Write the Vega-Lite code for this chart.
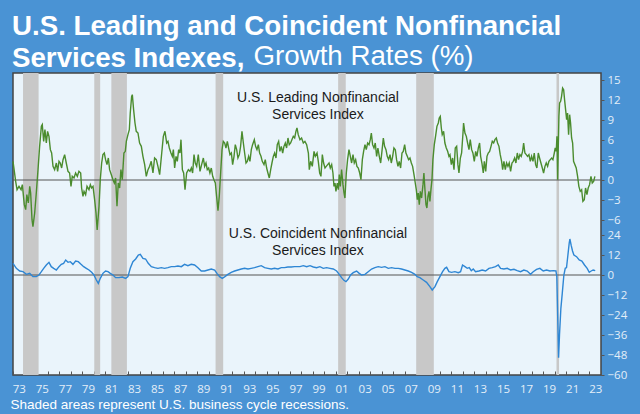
{
"$schema":"https://vega.github.io/schema/vega-lite/v6.json",
"width":588,"height":302,
"autosize":{"type":"none"},
"padding":{"left":13,"top":73,"right":39,"bottom":39},
"background":"#4a93d4",
"config":{
 "view":{"fill":"#eaf4fb","stroke":"#444444","strokeWidth":1.5},
 "font":"Liberation Sans",
 "axis":{"grid":false,"domain":false,"labelFont":"Open Sans","labelColor":"#e3eef8","labelFontSize":11.5,"tickColor":"#555555"},
 "axisX":{"labelOverlap":false,"labelFlush":false,"labelBound":false}
},
"title":{"text":["U.S. Leading and Coincident Nonfinancial","Services Indexes,"],
 "anchor":"start","frame":"group","dx":-1,"offset":-31,
 "font":"Liberation Sans","fontSize":27.7,"fontWeight":"bold","color":"#ffffff","lineHeight":32},
"datasets":{
 "rec":[{"s":1973.87,"e":1975.22},{"s":1980.05,"e":1980.56},{"s":1981.53,"e":1982.88},{"s":1990.57,"e":1991.23},{"s":2001.2,"e":2001.86},{"s":2007.97,"e":2009.5},{"s":2020.14,"e":2020.36}],
 "lead":[
{"t":1973.0,"v":2.8},{"t":1973.14,"v":1.0},{"t":1973.23,"v":-0.2},{"t":1973.35,"v":-1.45},{"t":1973.52,"v":-0.95},{"t":1973.7,"v":-1.45},{"t":1973.81,"v":-0.7},{"t":1973.98,"v":-3.7},{"t":1974.1,"v":-4.45},{"t":1974.2,"v":-2.2},{"t":1974.33,"v":-3.45},{"t":1974.45,"v":-0.95},{"t":1974.53,"v":-1.95},{"t":1974.65,"v":-5.95},{"t":1974.73,"v":-7.0},{"t":1974.88,"v":-4.95},{"t":1975.02,"v":-1.95},{"t":1975.17,"v":1.55},{"t":1975.31,"v":5.05},{"t":1975.46,"v":8.05},{"t":1975.54,"v":8.3},{"t":1975.66,"v":5.8},{"t":1975.77,"v":7.55},{"t":1975.89,"v":5.55},{"t":1976.0,"v":7.3},{"t":1976.12,"v":6.55},{"t":1976.24,"v":4.55},{"t":1976.35,"v":4.05},{"t":1976.47,"v":2.05},{"t":1976.61,"v":1.55},{"t":1976.76,"v":2.55},{"t":1976.87,"v":1.3},{"t":1976.99,"v":2.8},{"t":1977.1,"v":2.55},{"t":1977.22,"v":1.8},{"t":1977.34,"v":3.05},{"t":1977.48,"v":3.8},{"t":1977.62,"v":2.55},{"t":1977.77,"v":1.3},{"t":1977.91,"v":1.05},{"t":1978.03,"v":-0.95},{"t":1978.14,"v":0.55},{"t":1978.29,"v":0.3},{"t":1978.43,"v":1.05},{"t":1978.58,"v":0.55},{"t":1978.72,"v":1.3},{"t":1978.87,"v":1.05},{"t":1978.95,"v":-1.2},{"t":1979.07,"v":-2.45},{"t":1979.16,"v":-1.7},{"t":1979.3,"v":-2.2},{"t":1979.42,"v":-0.95},{"t":1979.59,"v":-1.45},{"t":1979.71,"v":-0.7},{"t":1979.82,"v":-1.2},{"t":1979.94,"v":-0.95},{"t":1980.08,"v":-2.95},{"t":1980.2,"v":-4.95},{"t":1980.3,"v":-7.5},{"t":1980.46,"v":-3.95},{"t":1980.57,"v":0.05},{"t":1980.69,"v":2.55},{"t":1980.8,"v":3.8},{"t":1980.92,"v":4.05},{"t":1981.03,"v":3.05},{"t":1981.15,"v":2.3},{"t":1981.27,"v":3.3},{"t":1981.38,"v":1.55},{"t":1981.53,"v":0.8},{"t":1981.67,"v":0.05},{"t":1981.79,"v":-0.45},{"t":1981.9,"v":0.3},{"t":1982.02,"v":-3.95},{"t":1982.13,"v":-0.45},{"t":1982.25,"v":-1.2},{"t":1982.36,"v":1.55},{"t":1982.48,"v":0.05},{"t":1982.62,"v":4.05},{"t":1982.74,"v":4.3},{"t":1982.83,"v":5.8},{"t":1982.97,"v":6.8},{"t":1983.09,"v":7.55},{"t":1983.17,"v":10.05},{"t":1983.29,"v":12.55},{"t":1983.35,"v":12.8},{"t":1983.46,"v":10.55},{"t":1983.58,"v":8.55},{"t":1983.69,"v":7.3},{"t":1983.84,"v":7.05},{"t":1983.98,"v":5.55},{"t":1984.13,"v":5.05},{"t":1984.27,"v":3.55},{"t":1984.42,"v":2.3},{"t":1984.56,"v":0.55},{"t":1984.71,"v":1.55},{"t":1984.85,"v":2.05},{"t":1984.99,"v":2.8},{"t":1985.14,"v":1.05},{"t":1985.28,"v":3.3},{"t":1985.43,"v":3.05},{"t":1985.57,"v":2.05},{"t":1985.72,"v":0.8},
{"t":1985.9,"v":4.05},{"t":1986.04,"v":6.55},{"t":1986.18,"v":7.3},{"t":1986.33,"v":5.55},{"t":1986.44,"v":5.8},{"t":1986.56,"v":4.8},{"t":1986.7,"v":4.05},{"t":1986.82,"v":3.55},{"t":1986.91,"v":4.55},{"t":1987.02,"v":1.8},{"t":1987.14,"v":3.55},{"t":1987.25,"v":2.8},{"t":1987.37,"v":4.55},{"t":1987.48,"v":4.05},{"t":1987.57,"v":6.05},{"t":1987.69,"v":1.55},{"t":1987.8,"v":1.05},{"t":1987.92,"v":-1.45},{"t":1988.06,"v":1.05},{"t":1988.21,"v":1.55},{"t":1988.35,"v":1.3},{"t":1988.47,"v":1.8},{"t":1988.58,"v":1.05},{"t":1988.7,"v":3.8},{"t":1988.81,"v":2.55},{"t":1988.93,"v":2.05},{"t":1989.07,"v":3.8},{"t":1989.22,"v":1.3},{"t":1989.36,"v":2.3},{"t":1989.51,"v":3.3},{"t":1989.62,"v":2.05},{"t":1989.74,"v":2.55},{"t":1989.85,"v":1.55},{"t":1989.97,"v":1.8},{"t":1990.08,"v":1.05},{"t":1990.2,"v":1.8},{"t":1990.32,"v":0.55},{"t":1990.43,"v":0.05},{"t":1990.55,"v":-0.45},{"t":1990.66,"v":-2.45},{"t":1990.78,"v":-4.6},{"t":1990.89,"v":-2.45},{"t":1991.01,"v":1.05},{"t":1991.13,"v":4.55},{"t":1991.24,"v":5.8},{"t":1991.36,"v":5.55},{"t":1991.47,"v":4.8},{"t":1991.59,"v":5.8},{"t":1991.7,"v":4.8},{"t":1991.82,"v":3.8},{"t":1991.94,"v":4.05},{"t":1992.05,"v":2.3},{"t":1992.17,"v":3.55},{"t":1992.28,"v":5.3},{"t":1992.4,"v":4.55},{"t":1992.51,"v":3.3},{"t":1992.63,"v":3.8},{"t":1992.74,"v":5.05},{"t":1992.86,"v":7.3},{"t":1992.98,"v":5.55},{"t":1993.09,"v":4.05},{"t":1993.21,"v":2.55},{"t":1993.32,"v":2.8},{"t":1993.44,"v":3.55},{"t":1993.55,"v":2.8},{"t":1993.67,"v":4.55},{"t":1993.78,"v":5.3},{"t":1993.93,"v":6.05},{"t":1994.04,"v":5.05},{"t":1994.16,"v":4.55},{"t":1994.28,"v":5.3},{"t":1994.39,"v":4.05},{"t":1994.51,"v":3.55},{"t":1994.62,"v":2.8},{"t":1994.77,"v":2.3},{"t":1994.88,"v":3.05},{"t":1995.0,"v":1.8},{"t":1995.11,"v":1.05},{"t":1995.23,"v":0.3},{"t":1995.35,"v":1.55},{"t":1995.46,"v":2.55},{"t":1995.58,"v":3.55},{"t":1995.69,"v":4.05},{"t":1995.81,"v":3.3},{"t":1995.92,"v":5.3},{"t":1996.04,"v":5.8},{"t":1996.15,"v":4.3},{"t":1996.27,"v":5.05},{"t":1996.39,"v":4.05},{"t":1996.5,"v":5.05},{"t":1996.62,"v":5.55},{"t":1996.73,"v":4.8},{"t":1996.85,"v":6.3},{"t":1996.96,"v":5.3},{"t":1997.08,"v":5.55},{"t":1997.19,"v":6.05},{"t":1997.31,"v":6.55},{"t":1997.43,"v":6.3},{"t":1997.54,"v":7.3},{"t":1997.63,"v":7.8},{"t":1997.74,"v":6.8},{"t":1997.89,"v":6.05},{"t":1998.03,"v":6.3},{"t":1998.18,"v":5.55},{"t":1998.32,"v":5.8},{"t":1998.47,"v":5.3},{"t":1998.62,"v":4.05},
{"t":1998.7,"v":1.55},{"t":1998.82,"v":2.8},{"t":1998.96,"v":2.05},{"t":1999.11,"v":4.3},{"t":1999.22,"v":3.55},{"t":1999.37,"v":4.05},{"t":1999.48,"v":2.8},{"t":1999.6,"v":1.05},{"t":1999.71,"v":0.55},{"t":1999.83,"v":3.8},{"t":1999.94,"v":2.55},{"t":2000.06,"v":1.8},{"t":2000.17,"v":2.05},{"t":2000.29,"v":2.3},{"t":2000.41,"v":2.55},{"t":2000.52,"v":1.8},{"t":2000.64,"v":2.3},{"t":2000.75,"v":1.05},{"t":2000.84,"v":-0.95},{"t":2000.93,"v":-0.45},{"t":2001.01,"v":-1.7},{"t":2001.13,"v":-0.45},{"t":2001.22,"v":-1.45},{"t":2001.3,"v":0.8},{"t":2001.39,"v":-0.95},{"t":2001.5,"v":1.55},{"t":2001.62,"v":-0.7},{"t":2001.71,"v":-1.95},{"t":2001.79,"v":-2.7},{"t":2001.91,"v":1.05},{"t":2002.02,"v":3.05},{"t":2002.14,"v":4.55},{"t":2002.26,"v":3.55},{"t":2002.37,"v":2.55},{"t":2002.49,"v":3.8},{"t":2002.6,"v":2.55},{"t":2002.72,"v":3.05},{"t":2002.83,"v":2.05},{"t":2002.95,"v":1.8},{"t":2003.07,"v":1.05},{"t":2003.18,"v":0.05},{"t":2003.3,"v":3.05},{"t":2003.41,"v":4.3},{"t":2003.53,"v":5.3},{"t":2003.64,"v":4.55},{"t":2003.76,"v":5.55},{"t":2003.88,"v":5.3},{"t":2003.99,"v":6.05},{"t":2004.08,"v":7.05},{"t":2004.19,"v":5.3},{"t":2004.31,"v":4.8},{"t":2004.42,"v":5.55},{"t":2004.54,"v":3.55},{"t":2004.65,"v":4.8},{"t":2004.77,"v":3.55},{"t":2004.89,"v":2.55},{"t":2005.0,"v":4.3},{"t":2005.12,"v":6.3},{"t":2005.23,"v":5.05},{"t":2005.35,"v":4.55},{"t":2005.46,"v":3.55},{"t":2005.58,"v":3.05},{"t":2005.7,"v":3.8},{"t":2005.81,"v":2.55},{"t":2005.93,"v":3.55},{"t":2006.04,"v":4.8},{"t":2006.16,"v":4.55},{"t":2006.27,"v":3.05},{"t":2006.39,"v":2.05},{"t":2006.5,"v":2.8},{"t":2006.62,"v":1.8},{"t":2006.74,"v":4.05},{"t":2006.85,"v":4.3},{"t":2006.97,"v":5.3},{"t":2007.08,"v":4.05},{"t":2007.2,"v":3.55},{"t":2007.31,"v":3.05},{"t":2007.43,"v":3.3},{"t":2007.55,"v":2.55},{"t":2007.66,"v":2.05},{"t":2007.78,"v":0.8},{"t":2007.89,"v":-0.45},{"t":2007.98,"v":-1.45},{"t":2008.07,"v":-2.95},{"t":2008.15,"v":-1.95},{"t":2008.24,"v":-3.7},{"t":2008.33,"v":-1.7},{"t":2008.44,"v":-2.7},{"t":2008.56,"v":-0.7},{"t":2008.64,"v":1.05},{"t":2008.73,"v":-1.45},{"t":2008.82,"v":-3.7},{"t":2008.9,"v":-4.2},{"t":2008.99,"v":-2.45},{"t":2009.08,"v":-1.7},{"t":2009.16,"v":-3.2},{"t":2009.25,"v":-1.45},{"t":2009.34,"v":0.05},{"t":2009.42,"v":3.05},{"t":2009.54,"v":5.3},{"t":2009.65,"v":6.55},{"t":2009.77,"v":8.05},{"t":2009.89,"v":8.55},{"t":2009.97,"v":9.3},{"t":2010.06,"v":9.55},{"t":2010.15,"v":7.8},{"t":2010.23,"v":6.8},{"t":2010.35,"v":7.3},{"t":2010.46,"v":5.55},{"t":2010.58,"v":4.8},{"t":2010.7,"v":4.3},{"t":2010.81,"v":3.55},{"t":2010.9,"v":3.8},
{"t":2011.02,"v":2.3},{"t":2011.13,"v":3.3},{"t":2011.25,"v":1.55},{"t":2011.36,"v":4.8},{"t":2011.48,"v":5.05},{"t":2011.59,"v":2.3},{"t":2011.68,"v":1.05},{"t":2011.8,"v":3.3},{"t":2011.91,"v":4.05},{"t":2012.03,"v":7.05},{"t":2012.08,"v":8.55},{"t":2012.2,"v":7.05},{"t":2012.32,"v":6.55},{"t":2012.43,"v":5.55},{"t":2012.55,"v":4.55},{"t":2012.66,"v":6.05},{"t":2012.78,"v":4.55},{"t":2012.89,"v":4.05},{"t":2013.01,"v":2.8},{"t":2013.13,"v":4.3},{"t":2013.24,"v":3.55},{"t":2013.36,"v":4.8},{"t":2013.47,"v":5.55},{"t":2013.56,"v":3.55},{"t":2013.67,"v":2.55},{"t":2013.79,"v":1.05},{"t":2013.88,"v":2.8},{"t":2014.0,"v":1.3},{"t":2014.11,"v":3.55},{"t":2014.22,"v":4.05},{"t":2014.34,"v":4.3},{"t":2014.46,"v":5.05},{"t":2014.57,"v":5.8},{"t":2014.69,"v":5.55},{"t":2014.8,"v":6.05},{"t":2014.92,"v":6.3},{"t":2015.03,"v":5.55},{"t":2015.15,"v":5.05},{"t":2015.26,"v":3.8},{"t":2015.38,"v":2.8},{"t":2015.47,"v":1.55},{"t":2015.58,"v":2.8},{"t":2015.7,"v":1.55},{"t":2015.81,"v":2.55},{"t":2015.93,"v":2.05},{"t":2016.04,"v":2.55},{"t":2016.16,"v":1.3},{"t":2016.28,"v":2.55},{"t":2016.39,"v":2.8},{"t":2016.51,"v":3.3},{"t":2016.62,"v":2.55},{"t":2016.74,"v":4.05},{"t":2016.85,"v":3.05},{"t":2016.97,"v":3.8},{"t":2017.08,"v":3.55},{"t":2017.2,"v":4.3},{"t":2017.29,"v":5.55},{"t":2017.4,"v":4.05},{"t":2017.52,"v":3.8},{"t":2017.63,"v":3.55},{"t":2017.75,"v":3.8},{"t":2017.87,"v":2.8},{"t":2017.98,"v":3.55},{"t":2018.1,"v":2.8},{"t":2018.21,"v":4.05},{"t":2018.33,"v":2.3},{"t":2018.44,"v":1.8},{"t":2018.56,"v":4.05},{"t":2018.67,"v":3.3},{"t":2018.79,"v":2.55},{"t":2018.91,"v":1.8},{"t":2019.02,"v":1.05},{"t":2019.14,"v":2.05},{"t":2019.25,"v":2.55},{"t":2019.37,"v":2.05},{"t":2019.48,"v":2.8},{"t":2019.6,"v":3.05},{"t":2019.72,"v":3.3},{"t":2019.83,"v":3.05},{"t":2019.95,"v":4.05},{"t":2020.03,"v":4.8},{"t":2020.12,"v":4.3},{"t":2020.18,"v":6.55},{"t":2020.24,"v":0.05},{"t":2020.29,"v":4.55},{"t":2020.35,"v":9.55},{"t":2020.41,"v":11.55},{"t":2020.5,"v":11.8},{"t":2020.58,"v":12.55},{"t":2020.67,"v":13.8},{"t":2020.76,"v":13.55},{"t":2020.84,"v":12.05},{"t":2020.93,"v":10.55},{"t":2021.02,"v":9.05},{"t":2021.1,"v":10.05},{"t":2021.19,"v":6.8},{"t":2021.28,"v":9.8},{"t":2021.36,"v":8.55},{"t":2021.45,"v":6.3},{"t":2021.54,"v":5.55},{"t":2021.62,"v":2.8},{"t":2021.74,"v":2.3},{"t":2021.85,"v":1.8},{"t":2021.97,"v":0.55},{"t":2022.08,"v":-0.95},{"t":2022.2,"v":-1.7},{"t":2022.32,"v":-1.45},{"t":2022.43,"v":-3.2},{"t":2022.55,"v":-2.95},{"t":2022.66,"v":-1.2},{"t":2022.78,"v":-2.2},{"t":2022.89,"v":-1.2},{"t":2023.01,"v":-0.7},{"t":2023.13,"v":0.55},{"t":2023.24,"v":-0.45},{"t":2023.36,"v":-0.2},{"t":2023.47,"v":0.55}],
 "coin":[
{"t":1973.0,"v":7},{"t":1973.29,"v":4},{"t":1973.58,"v":2.4},{"t":1973.87,"v":2},{"t":1974.16,"v":0.4},{"t":1974.45,"v":1},{"t":1974.73,"v":-1},{"t":1975.02,"v":-1},{"t":1975.25,"v":0},{"t":1975.46,"v":2},{"t":1975.66,"v":4},{"t":1975.89,"v":6},{"t":1976.12,"v":7.6},{"t":1976.32,"v":5},{"t":1976.53,"v":4},{"t":1976.76,"v":3},{"t":1976.99,"v":5},{"t":1977.19,"v":6.4},{"t":1977.39,"v":7},{"t":1977.57,"v":9},{"t":1977.77,"v":7.6},{"t":1977.97,"v":8},{"t":1978.2,"v":6.4},{"t":1978.43,"v":8.4},{"t":1978.66,"v":8},{"t":1978.9,"v":6.4},{"t":1979.13,"v":5},{"t":1979.36,"v":4},{"t":1979.59,"v":3},{"t":1979.82,"v":1.6},{"t":1980.02,"v":0},{"t":1980.23,"v":-3},{"t":1980.4,"v":-5},{"t":1980.57,"v":-2},{"t":1980.8,"v":1},{"t":1981.03,"v":2.4},{"t":1981.24,"v":2},{"t":1981.44,"v":1},{"t":1981.67,"v":0},{"t":1981.9,"v":-1.6},{"t":1982.19,"v":-1.6},{"t":1982.48,"v":-1.2},{"t":1982.77,"v":-2},{"t":1982.97,"v":-1},{"t":1983.17,"v":4},{"t":1983.4,"v":8},{"t":1983.64,"v":9.6},{"t":1983.87,"v":12},{"t":1984.04,"v":12.4},{"t":1984.27,"v":10},{"t":1984.5,"v":9.6},{"t":1984.73,"v":7},{"t":1985.0,"v":5},{"t":1985.28,"v":4.4},{"t":1985.57,"v":4},{"t":1985.86,"v":4.4},{"t":1986.15,"v":4},{"t":1986.44,"v":4.4},{"t":1986.73,"v":5},{"t":1987.02,"v":5},{"t":1987.31,"v":5.4},{"t":1987.6,"v":5},{"t":1987.88,"v":6.4},{"t":1988.17,"v":5.6},{"t":1988.46,"v":6.4},{"t":1988.75,"v":6},{"t":1989.04,"v":4.4},{"t":1989.33,"v":2.4},{"t":1989.62,"v":2.4},{"t":1989.91,"v":3},{"t":1990.2,"v":3.6},{"t":1990.49,"v":3},{"t":1990.69,"v":1},{"t":1990.92,"v":-1},{"t":1991.15,"v":-2},{"t":1991.38,"v":-1},{"t":1991.64,"v":0.4},{"t":1991.93,"v":1.6},{"t":1992.22,"v":2.4},{"t":1992.51,"v":3},{"t":1992.8,"v":3.6},{"t":1993.09,"v":4},{"t":1993.38,"v":3.6},{"t":1993.66,"v":4},{"t":1993.95,"v":4.4},{"t":1994.24,"v":5},{"t":1994.53,"v":5.6},{"t":1994.82,"v":4.4},{"t":1995.11,"v":4},{"t":1995.4,"v":3.6},{"t":1995.69,"v":4},{"t":1995.98,"v":3.6},{"t":1996.27,"v":4.4},{"t":1996.55,"v":4.4},{"t":1996.84,"v":4.8},{"t":1997.13,"v":4.8},{"t":1997.42,"v":5},{"t":1997.71,"v":5},
{"t":1997.89,"v":5},{"t":1998.18,"v":5.6},{"t":1998.47,"v":5},{"t":1998.76,"v":5.6},{"t":1999.05,"v":4.8},{"t":1999.33,"v":4.4},{"t":1999.62,"v":5},{"t":1999.91,"v":4},{"t":2000.2,"v":4.4},{"t":2000.49,"v":4},{"t":2000.78,"v":3.6},{"t":2001.07,"v":2.4},{"t":2001.3,"v":0.4},{"t":2001.5,"v":-1.6},{"t":2001.7,"v":-3.2},{"t":2001.88,"v":-4},{"t":2002.08,"v":-2.4},{"t":2002.28,"v":0},{"t":2002.51,"v":1.4},{"t":2002.8,"v":2.4},{"t":2003.03,"v":1},{"t":2003.24,"v":0},{"t":2003.53,"v":0.4},{"t":2003.81,"v":2},{"t":2004.1,"v":3.6},{"t":2004.39,"v":4.4},{"t":2004.68,"v":5},{"t":2004.97,"v":4.6},{"t":2005.26,"v":5},{"t":2005.55,"v":4},{"t":2005.84,"v":4.4},{"t":2006.13,"v":4},{"t":2006.42,"v":4},{"t":2006.7,"v":3.6},{"t":2006.99,"v":3},{"t":2007.28,"v":2.4},{"t":2007.57,"v":1.6},{"t":2007.86,"v":0.4},{"t":2008.06,"v":-1},{"t":2008.29,"v":-1.6},{"t":2008.58,"v":-3},{"t":2008.87,"v":-4.4},{"t":2009.16,"v":-7},{"t":2009.36,"v":-9},{"t":2009.6,"v":-7},{"t":2009.8,"v":-4},{"t":2010.03,"v":-1},{"t":2010.26,"v":2},{"t":2010.46,"v":4},{"t":2010.61,"v":4.6},{"t":2010.81,"v":2},{"t":2011.04,"v":1.6},{"t":2011.33,"v":2},{"t":2011.62,"v":1.4},{"t":2011.82,"v":2},{"t":2011.99,"v":6},{"t":2012.2,"v":5},{"t":2012.4,"v":4},{"t":2012.57,"v":4.4},{"t":2012.75,"v":2.6},{"t":2012.92,"v":3.6},{"t":2013.12,"v":2},{"t":2013.41,"v":2.4},{"t":2013.7,"v":3},{"t":2013.99,"v":2.4},{"t":2014.28,"v":4},{"t":2014.57,"v":4.4},{"t":2014.85,"v":5},{"t":2015.09,"v":6},{"t":2015.29,"v":4},{"t":2015.58,"v":3.6},{"t":2015.87,"v":4},{"t":2016.16,"v":3},{"t":2016.45,"v":3.4},{"t":2016.73,"v":2.6},{"t":2017.02,"v":2},{"t":2017.31,"v":3},{"t":2017.6,"v":2.4},{"t":2017.89,"v":0.4},{"t":2018.12,"v":2},{"t":2018.41,"v":3.4},{"t":2018.7,"v":4},{"t":2018.99,"v":2.4},{"t":2019.28,"v":3},{"t":2019.57,"v":2.4},{"t":2019.86,"v":2.6},{"t":2020.09,"v":2.4},{"t":2020.17,"v":-1},{"t":2020.26,"v":-30},{"t":2020.32,"v":-49.6},{"t":2020.4,"v":-36},{"t":2020.52,"v":-20},{"t":2020.64,"v":-11},{"t":2020.78,"v":0},{"t":2020.9,"v":4},{"t":2021.01,"v":4.4},{"t":2021.13,"v":12},{"t":2021.24,"v":19},{"t":2021.3,"v":21.6},{"t":2021.42,"v":17.6},{"t":2021.53,"v":14.4},{"t":2021.65,"v":12},{"t":2021.88,"v":11},{"t":2022.11,"v":9},{"t":2022.34,"v":8.4},{"t":2022.57,"v":6},{"t":2022.8,"v":4},{"t":2022.98,"v":1.6},{"t":2023.15,"v":2.4},{"t":2023.32,"v":3},{"t":2023.5,"v":2.6}]
},
"layer":[
 {"data":{"name":"rec"},"mark":{"type":"rect","color":"#c8c8c8"},
  "encoding":{
   "x":{"field":"s","type":"quantitative","scale":{"domain":[1973,2024],"nice":false,"zero":false},
    "axis":{"values":[1973,1974,1975,1976,1977,1978,1979,1980,1981,1982,1983,1984,1985,1986,1987,1988,1989,1990,1991,1992,1993,1994,1995,1996,1997,1998,1999,2000,2001,2002,2003,2004,2005,2006,2007,2008,2009,2010,2011,2012,2013,2014,2015,2016,2017,2018,2019,2020,2021,2022,2023,2024],
     "tickCount":100,
     "labelExpr":"datum.value % 2 == 1 ? slice('0' + (datum.value % 100), -2) : ''",
     "labelOffset":5.77,"tickSize":-4,"labelPadding":12,"labelOverlap":false,"labelFlush":false,"labelBound":false,
     "title":"Shaded areas represent U.S. business cycle recessions.","titleAnchor":"start","titleAlign":"left","titleX":-3,"titleY":33,"titleBaseline":"alphabetic",
     "titleColor":"#ffffff","titleFont":"Liberation Sans","titleFontSize":13.5,"titleFontWeight":"normal"}},
   "x2":{"field":"e"}}},
 {"layer":[
   {"data":{"values":[{}]},"mark":{"type":"rule","color":"#555555","strokeWidth":1.2},"encoding":{"y":{"datum":0,"type":"quantitative"}}},
   {"data":{"name":"lead"},"mark":{"type":"line","color":"#4b8c2e","strokeWidth":1.4},
    "encoding":{"x":{"field":"t","type":"quantitative","scale":{"domain":[1973,2024],"nice":false,"zero":false}},
     "y":{"field":"v","type":"quantitative","scale":{"domain":[-29.25,16.05],"nice":false,"zero":false},
      "axis":{"orient":"right","title":null,"values":[-6,-3,0,3,6,9,12,15],"tickCount":20,"tickSize":3,"labelPadding":3}}}},
   {"data":{"values":[{"t":1999.45,"v":11.75,"label":"U.S. Leading Nonfinancial\nServices Index"}]},
    "mark":{"type":"text","align":"center","baseline":"alphabetic","fontSize":14,"color":"#1a1a1a","lineBreak":"\n","lineHeight":17,"font":"Liberation Sans"},
    "encoding":{"x":{"field":"t","type":"quantitative"},"y":{"field":"v","type":"quantitative"},"text":{"field":"label"}}}
 ]},
 {"layer":[
   {"data":{"values":[{}]},"mark":{"type":"rule","color":"#555555","strokeWidth":1.2},"encoding":{"y":{"datum":0,"type":"quantitative"}}},
   {"data":{"name":"coin"},"mark":{"type":"line","color":"#2e86d4","strokeWidth":1.4},
    "encoding":{"x":{"field":"t","type":"quantitative","scale":{"domain":[1973,2024],"nice":false,"zero":false}},
     "y":{"field":"v","type":"quantitative","scale":{"domain":[-60,121.2],"nice":false,"zero":false},
      "axis":{"orient":"right","values":[-60,-48,-36,-24,-12,0,12,24],"tickCount":20,"tickSize":3,"labelPadding":3,
       "title":"Growth Rates (%)","titleAngle":0,"titleX":-348,"titleY":-9,"titleAlign":"left","titleBaseline":"alphabetic",
       "titleFont":"Liberation Sans","titleFontSize":27.7,"titleFontWeight":"normal","titleColor":"#ffffff"}}}},
   {"data":{"values":[{"t":1999.45,"v":22.2,"label":"U.S. Coincident Nonfinancial\nServices Index"}]},
    "mark":{"type":"text","align":"center","baseline":"alphabetic","fontSize":14,"color":"#1a1a1a","lineBreak":"\n","lineHeight":17,"font":"Liberation Sans"},
    "encoding":{"x":{"field":"t","type":"quantitative"},"y":{"field":"v","type":"quantitative"},"text":{"field":"label"}}}
 ]}
],
"resolve":{"scale":{"y":"independent"}}
}
